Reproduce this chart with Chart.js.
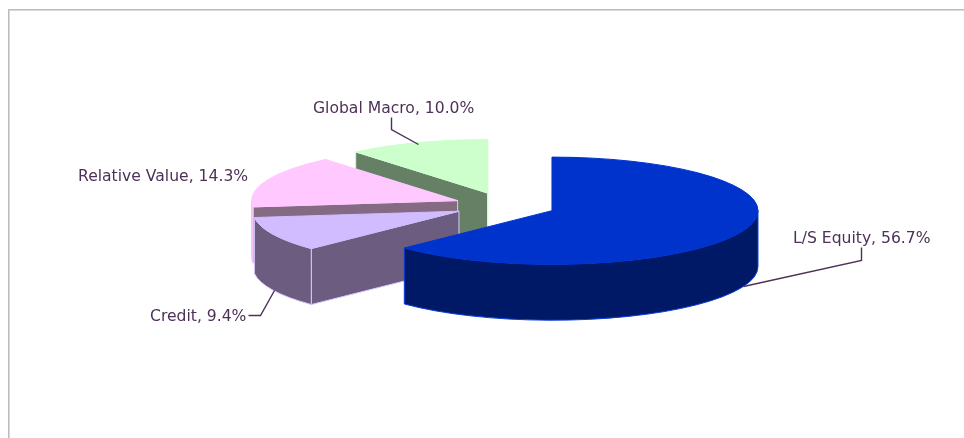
<!DOCTYPE html>
<html>
<head>
<meta charset="utf-8">
<title>Strategy allocation</title>
<script src="https://cdn.jsdelivr.net/npm/chart.js@4/dist/chart.umd.min.js"></script>
<style>
  html, body { margin: 0; padding: 0; background: #fff; overflow: hidden; }
  #frame {
    position: absolute; left: 8px; top: 9px; right: 0; bottom: 0;
    border-left: 1px solid #bcbcbc; border-top: 1px solid #bcbcbc;
    box-shadow: inset 1px 1px 0 #d8d8d8;
  }
  canvas { position: absolute; left: 0; top: 0; }
</style>
</head>
<body>
<div id="frame"></div>
<canvas id="pie" width="964" height="438"></canvas>
<script>
// ===== Data =====
const categories = ['L/S Equity', 'Credit', 'Relative Value', 'Global Macro']
const shares = [56.7, 9.4, 14.3, 10.0]

// ===== Styles =====
const topColors = ['#0033cc', '#d0bcff', '#ffc8ff', '#ccffcc']
const cutColors = ['#001966', '#6b5c80', '#846a82', '#668066']
const rimColors = ['#001966', '#6b5c80', '#ffc8ff', '#668066']
const edgeColors = ['#0a3fe0', '#d8c8ff', '#f0c0f0', '#ccffcc']

// 3D look of the old pie: flattened ellipse, height of the wall, exploded slices
const tilt = 0.26
const wallDepth = 56
const explode = 51
const pieCenterY = 205.5

// label anchor (x, y baseline) and leader line for each slice
const labelAt = [
  { x: 793, y: 243, leader: [[861, 247], [861, 260], [743, 286]] },
  { x: 150, y: 321, leader: [[248, 315], [260, 315], [274, 290]] },
  { x: 78, y: 181, leader: null },
  { x: 313, y: 113, leader: [[391, 117], [391, 129], [418, 144]] }
]

function wedgeGeometry(el) {
  const { x, startAngle, endAngle, outerRadius } = el.getProps(['x', 'startAngle', 'endAngle', 'outerRadius'], true)
  const mid = (startAngle + endAngle) / 2
  return {
    cx: x + Math.cos(mid) * explode,
    cy: pieCenterY + Math.sin(mid) * explode * tilt,
    rx: outerRadius,
    ry: outerRadius * tilt,
    a0: startAngle,
    a1: endAngle
  }
}

function drawCutFace(ctx, g, angle, fill, edge) {
  const px = g.cx + Math.cos(angle) * g.rx
  const py = g.cy + Math.sin(angle) * g.ry
  ctx.beginPath()
  ctx.moveTo(g.cx, g.cy)
  ctx.lineTo(px, py)
  ctx.lineTo(px, py + wallDepth)
  ctx.lineTo(g.cx, g.cy + wallDepth)
  ctx.closePath()
  ctx.fillStyle = fill
  ctx.fill()
  ctx.strokeStyle = edge
  ctx.stroke()
}

function drawRim(ctx, g, fill, edge) {
  // only the part of the rim facing the viewer (canvas angles 0..PI)
  const from = Math.max(g.a0, 0)
  const to = Math.min(g.a1, Math.PI)
  if (to <= from) return
  ctx.beginPath()
  ctx.ellipse(g.cx, g.cy, g.rx, g.ry, 0, from, to)
  ctx.lineTo(g.cx + Math.cos(to) * g.rx, g.cy + Math.sin(to) * g.ry + wallDepth)
  ctx.ellipse(g.cx, g.cy + wallDepth, g.rx, g.ry, 0, to, from, true)
  ctx.closePath()
  ctx.fillStyle = fill
  ctx.fill()
  ctx.strokeStyle = edge
  ctx.stroke()
}

function drawTop(ctx, g, fill) {
  ctx.beginPath()
  ctx.moveTo(g.cx, g.cy)
  ctx.ellipse(g.cx, g.cy, g.rx, g.ry, 0, g.a0, g.a1)
  ctx.closePath()
  ctx.fillStyle = fill
  ctx.fill()
  ctx.strokeStyle = fill
  ctx.stroke()
}

const pie3d = {
  id: 'pie3d',
  beforeDatasetDraw(chart) {
    const ctx = chart.ctx
    const arcs = chart.getDatasetMeta(0).data
    ctx.save()
    ctx.lineWidth = 1
    ctx.lineJoin = 'round'
    // back to front: the last slice sits behind the first one
    for (let i = arcs.length - 1; i >= 0; i--) {
      const g = wedgeGeometry(arcs[i])
      // a cut face only shows when it turns towards the viewer
      if (Math.cos(g.a0) < -1e-6) drawCutFace(ctx, g, g.a0, cutColors[i], edgeColors[i])
      if (Math.cos(g.a1) > -1e-6) drawCutFace(ctx, g, g.a1, cutColors[i], edgeColors[i])
      drawRim(ctx, g, rimColors[i], edgeColors[i])
      drawTop(ctx, g, topColors[i])
    }
    ctx.restore()
    return false // geometry comes from the pie controller, faces are drawn here
  },
  afterDatasetsDraw(chart) {
    const ctx = chart.ctx
    ctx.save()
    ctx.font = '15.6px "DejaVu Sans"'
    ctx.textBaseline = 'alphabetic'
    ctx.fillStyle = '#4d3157'
    ctx.strokeStyle = '#4d3157'
    ctx.lineWidth = 1.4
    categories.forEach((name, i) => {
      const spot = labelAt[i]
      ctx.fillText(`${name}, ${shares[i].toFixed(1)}%`, spot.x, spot.y)
      if (!spot.leader) return
      ctx.beginPath()
      spot.leader.forEach(([x, y], k) => k ? ctx.lineTo(x + 0.5, y + 0.5) : ctx.moveTo(x + 0.5, y + 0.5))
      ctx.stroke()
    })
    ctx.restore()
  }
}

new Chart(document.getElementById('pie').getContext('2d'), {
  type: 'pie',
  data: {
    labels: categories,
    datasets: [{ data: shares, backgroundColor: topColors, borderWidth: 0, offset: 0 }]
  },
  options: {
    responsive: false,
    animation: false,
    layout: { padding: { left: 299, right: 253, top: 0, bottom: 24 } },
    plugins: { legend: { display: false }, tooltip: { enabled: false } }
  },
  plugins: [pie3d]
})
</script>
</body>
</html>
